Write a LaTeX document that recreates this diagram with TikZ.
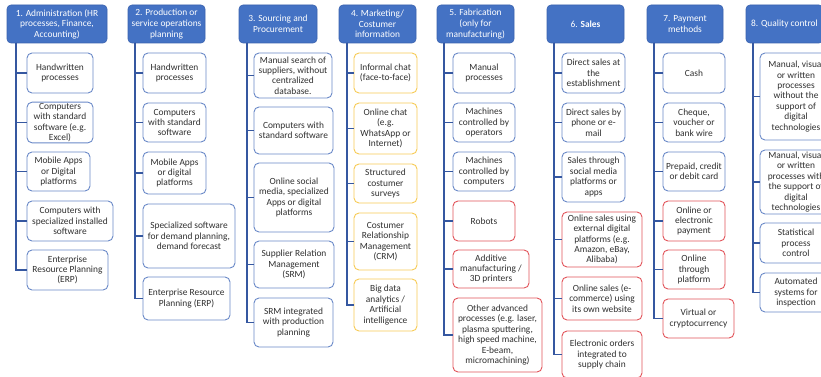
\documentclass[tikz,border=0pt]{standalone}
\usepackage{fontspec}
\setmainfont{Carlito}
\definecolor{hblue}{HTML}{4472C4}
\definecolor{hborder}{HTML}{3A62AE}
\definecolor{cblue}{HTML}{6A89C8}
\definecolor{conncol}{HTML}{3557A0}
\definecolor{cyellow}{HTML}{F7CB55}
\definecolor{cred}{HTML}{E2545A}
\definecolor{ctext}{HTML}{303030}
\tikzset{
  basebox/.style={rounded corners=5pt, line width=0.9pt, fill=white, align=center,
    inner sep=1pt, text=ctext, font=\fontsize{9.4}{10.4}\selectfont},
  bluebox/.style={basebox, draw=cblue},
  yelbox/.style={basebox, draw=cyellow},
  redbox/.style={basebox, draw=cred},
  headbox/.style={rounded corners=4pt, line width=0.6pt, fill=hblue, draw=hborder,
    align=center, inner sep=1pt, text=white, font=\fontsize{9.4}{10.6}\selectfont},
  conn/.style={draw=conncol, line width=1.1pt},
}
\newcommand\bx[7]{\node[#6, minimum width={(#4-#2)*1pt}, minimum height={(#5-#3)*1pt}] (#1) at ({(#2+#4)/2},{(#3+#5)/2}) {#7};}
\begin{document}
\begin{tikzpicture}[x=1pt,y=-1pt]
\useasboundingbox (0,0) rectangle (821,377);
\clip (0,0) rectangle (821,377);
\fill[white] (0,0) rectangle (821,377);
% headers
\bx{h1}{7}{5}{107}{43}{headbox}{1. Administration (HR\\processes, Finance,\\Accounting)}
\bx{h2}{128}{5}{205}{43}{headbox}{2. Production or\\service operations\\planning}
\bx{h3}{239}{5}{317}{43}{headbox}{3. Sourcing and\\Procurement}
\bx{h4}{339}{5}{416}{43}{headbox}{4. Marketing/\\Costumer\\information}
\bx{h5}{437}{5}{514}{43}{headbox}{5. Fabrication\\(only for\\manufacturing)}
\bx{h6}{547}{5}{624}{43}{headbox}{6. \textbf{Sales}}
\bx{h7}{647}{5}{723}{43}{headbox}{7. Payment\\methods}
\bx{h8}{746}{5}{823}{43}{headbox}{8. Quality control}
% column 1
\bx{c1a}{27}{53}{93}{93}{bluebox}{Handwritten\\processes}
\bx{c1b}{27}{103}{93}{142}{bluebox}{Computers\\with standard\\software (e.g.\\Excel)}
\bx{c1c}{27}{152}{90}{191}{bluebox}{Mobile Apps\\or Digital\\platforms}
\bx{c1d}{27}{201}{113}{241}{bluebox}{Computers with\\specialized installed\\software}
\bx{c1e}{27}{250}{108}{290}{bluebox}{Enterprise\\Resource Planning\\(ERP)}
% column 2
\bx{c2a}{143}{53}{206}{93}{bluebox}{Handwritten\\processes}
\bx{c2b}{143}{103}{206}{142}{bluebox}{Computers\\with standard\\software}
\bx{c2c}{143}{152}{206}{194}{bluebox}{Mobile Apps\\or digital\\platforms}
\bx{c2d}{143}{204}{235}{268}{bluebox}{Specialized software\\for demand planning,\\demand forecast}
\bx{c2e}{143}{277}{230}{320}{bluebox}{Enterprise Resource\\Planning (ERP)}
% column 3
\bx{c3a}{254}{53}{332}{98}{bluebox}{Manual search of\\suppliers, without\\centralized\\database.}
\bx{c3b}{254}{107}{333}{154}{bluebox}{Computers with\\standard software}
\bx{c3c}{254}{163}{334}{232}{bluebox}{Online social\\media, specialized\\Apps or digital\\platforms}
\bx{c3d}{254}{241}{334}{288}{bluebox}{Supplier Relation\\Management\\(SRM)}
\bx{c3e}{254}{298}{333}{347}{bluebox}{SRM integrated\\with production\\planning}
% column 4
\bx{c4a}{354}{53}{417}{93}{yelbox}{Informal chat\\(face-to-face)}
\bx{c4b}{354}{103}{417}{154}{yelbox}{Online chat\\(e.g.\\WhatsApp or\\Internet)}
\bx{c4c}{354}{164}{417}{203}{yelbox}{Structured\\costumer\\surveys}
\bx{c4d}{354}{213}{417}{270}{yelbox}{Costumer\\Relationship\\Management\\(CRM)}
\bx{c4e}{354}{279}{417}{331}{yelbox}{Big data\\analytics /\\Artificial\\intelligence}
% column 5
\bx{c5a}{453}{53}{515}{93}{bluebox}{Manual\\processes}
\bx{c5b}{453}{103}{515}{142}{bluebox}{Machines\\controlled by\\operators}
\bx{c5c}{453}{152}{515}{191}{bluebox}{Machines\\controlled by\\computers}
\bx{c5d}{453}{201}{515}{241}{redbox}{Robots}
\bx{c5e}{453}{250}{529}{288}{redbox}{Additive\\manufacturing /\\3D printers}
\bx{c5f}{453}{298}{542}{372}{redbox}{Other advanced\\processes (e.g. laser,\\plasma sputtering,\\high speed machine,\\E-beam,\\micromachining)}
% column 6
\bx{c6a}{562}{53}{625}{93}{bluebox}{Direct sales at\\the\\establishment}
\bx{c6b}{562}{103}{625}{142}{bluebox}{Direct sales by\\phone or e-\\mail}
\bx{c6c}{562}{152}{625}{202}{bluebox}{Sales through\\social media\\platforms or\\apps}
\bx{c6d}{562}{212}{642}{267}{redbox}{Online sales using\\external digital\\platforms (e.g.\\Amazon, eBay,\\Alibaba)}
\bx{c6e}{562}{277}{642}{320}{redbox}{Online sales (e-\\commerce) using\\its own website}
\bx{c6f}{562}{331}{642}{378}{redbox}{Electronic orders\\integrated to\\supply chain}
% column 7
\bx{c7a}{663}{53}{725}{93}{bluebox}{Cash}
\bx{c7b}{663}{103}{725}{142}{bluebox}{Cheque,\\voucher or\\bank wire}
\bx{c7c}{663}{152}{725}{191}{bluebox}{Prepaid, credit\\or debit card}
\bx{c7d}{663}{201}{725}{241}{redbox}{Online or\\electronic\\payment}
\bx{c7e}{663}{250}{725}{289}{redbox}{Online\\through\\platform}
\bx{c7f}{663}{299}{734}{338}{redbox}{Virtual or\\cryptocurrency}
% column 8
\bx{c8a}{760}{53}{832}{140}{bluebox}{Manual, visual\\or written\\processes\\without the\\support of\\digital\\technologies}
\bx{c8b}{760}{150}{832}{214}{bluebox}{Manual, visual\\or written\\processes with\\the support of\\digital\\technologies}
\bx{c8c}{760}{223}{832}{263}{bluebox}{Statistical\\process\\control}
\bx{c8d}{760}{273}{832}{312}{bluebox}{Automated\\systems for\\inspection}
% connector start points
\coordinate (s1) at (16,43);
\coordinate (s2) at (135,43);
\coordinate (s3) at (247,43);
\coordinate (s4) at (347,43);
\coordinate (s5) at (444,43);
\coordinate (s6) at (554,43);
\coordinate (s7) at (654,43);
\coordinate (s8) at (753,43);
\foreach \c/\list in {1/{a,b,c,d,e},2/{a,b,c,d,e},3/{a,b,c,d,e},4/{a,b,c,d,e},5/{a,b,c,d,e,f},6/{a,b,c,d,e,f},7/{a,b,c,d,e,f},8/{a,b,c,d}}{
  \foreach \k in \list {
    \draw[conn] (s\c) |- (c\c\k.west);
  }
}
\end{tikzpicture}
\end{document}
